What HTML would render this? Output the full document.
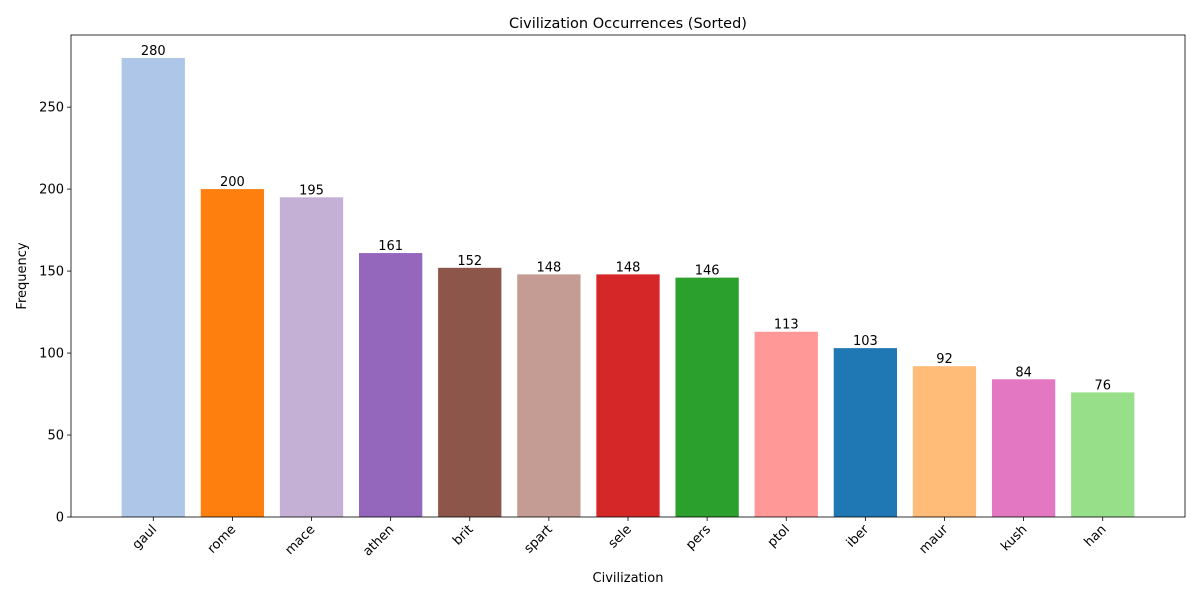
<!DOCTYPE html>
<html><head><meta charset="utf-8"><style>
body{margin:0;background:#fff;}
svg text{font-family:"DejaVu Sans","Liberation Sans",sans-serif;fill:#000;}
</style></head><body>
<svg id="chart" width="1200" height="600" xmlns="http://www.w3.org/2000/svg">
<rect width="1200" height="600" fill="#fff"/>
<text x="628" y="28" font-size="14.5" text-anchor="middle">Civilization Occurrences (Sorted)</text>
<text x="628" y="582" font-size="13" text-anchor="middle">Civilization</text>
<text x="26" y="276" font-size="13" text-anchor="middle" transform="rotate(-90 26 276)">Frequency</text>
<g id="bars"></g><g id="axes"></g>
</svg>
<script>
const categories=["gaul","rome","mace","athen","brit","spart","sele","pers","ptol","iber","maur","kush","han"];
const values=[280,200,195,161,152,148,148,146,113,103,92,84,76];
const colors=["#aec7e8","#ff7f0e","#c5b0d5","#9467bd","#8c564b","#c49c94","#d62728","#2ca02c","#ff9896","#1f77b4","#ffbb78","#e377c2","#98df8a"];
const yTicks=[0,50,100,150,200,250];
const NS="http://www.w3.org/2000/svg";
const L=71,R=1185,T=35,B=517;
const n=categories.length;
const xmin=-0.4-0.05*(n-1+0.8),xmax=n-1+0.4+0.05*(n-1+0.8);
const ymax=Math.max(...values)*1.05;
const xs=v=>L+(v-xmin)/(xmax-xmin)*(R-L);
const ys=v=>B-v/ymax*(B-T);
function mk(tag,attrs,parent){const e=document.createElementNS(NS,tag);for(const k in attrs)e.setAttribute(k,attrs[k]);parent.appendChild(e);return e;}
const bars=document.getElementById('bars'),axes=document.getElementById('axes');
categories.forEach((c,i)=>{
  const x0=xs(i-0.4),x1=xs(i+0.4),y=ys(values[i]);
  const r=mk('rect',{x:x0,y:y,width:x1-x0,height:B-y,fill:colors[i]},bars);
  
  
  const t=mk('text',{x:xs(i),y:y-3,'font-size':13,'text-anchor':'middle'},bars);
  t.textContent=values[i];
  
  
  const cx=xs(i);
  mk('line',{x1:cx,x2:cx,y1:B,y2:B+4,stroke:'#000','stroke-width':0.8},axes);
  const lt=mk('text',{x:cx+4,y:B+13,'font-size':13,'text-anchor':'end',transform:`rotate(-45 ${cx+4} ${B+13})`},axes);
  lt.textContent=c;
  
  
});
yTicks.forEach(v=>{
  const y=ys(v);
  mk('line',{x1:L-4,x2:L,y1:y,y2:y,stroke:'#000','stroke-width':0.8},axes);
  const t=mk('text',{x:L-7,y:y+4.5,'font-size':13,'text-anchor':'end'},axes);
  t.textContent=v;
  
  
});
const fr=mk('rect',{x:L,y:T,width:R-L,height:B-T,fill:'none',stroke:'#000','stroke-width':0.8},axes);


</script>
</body></html>
